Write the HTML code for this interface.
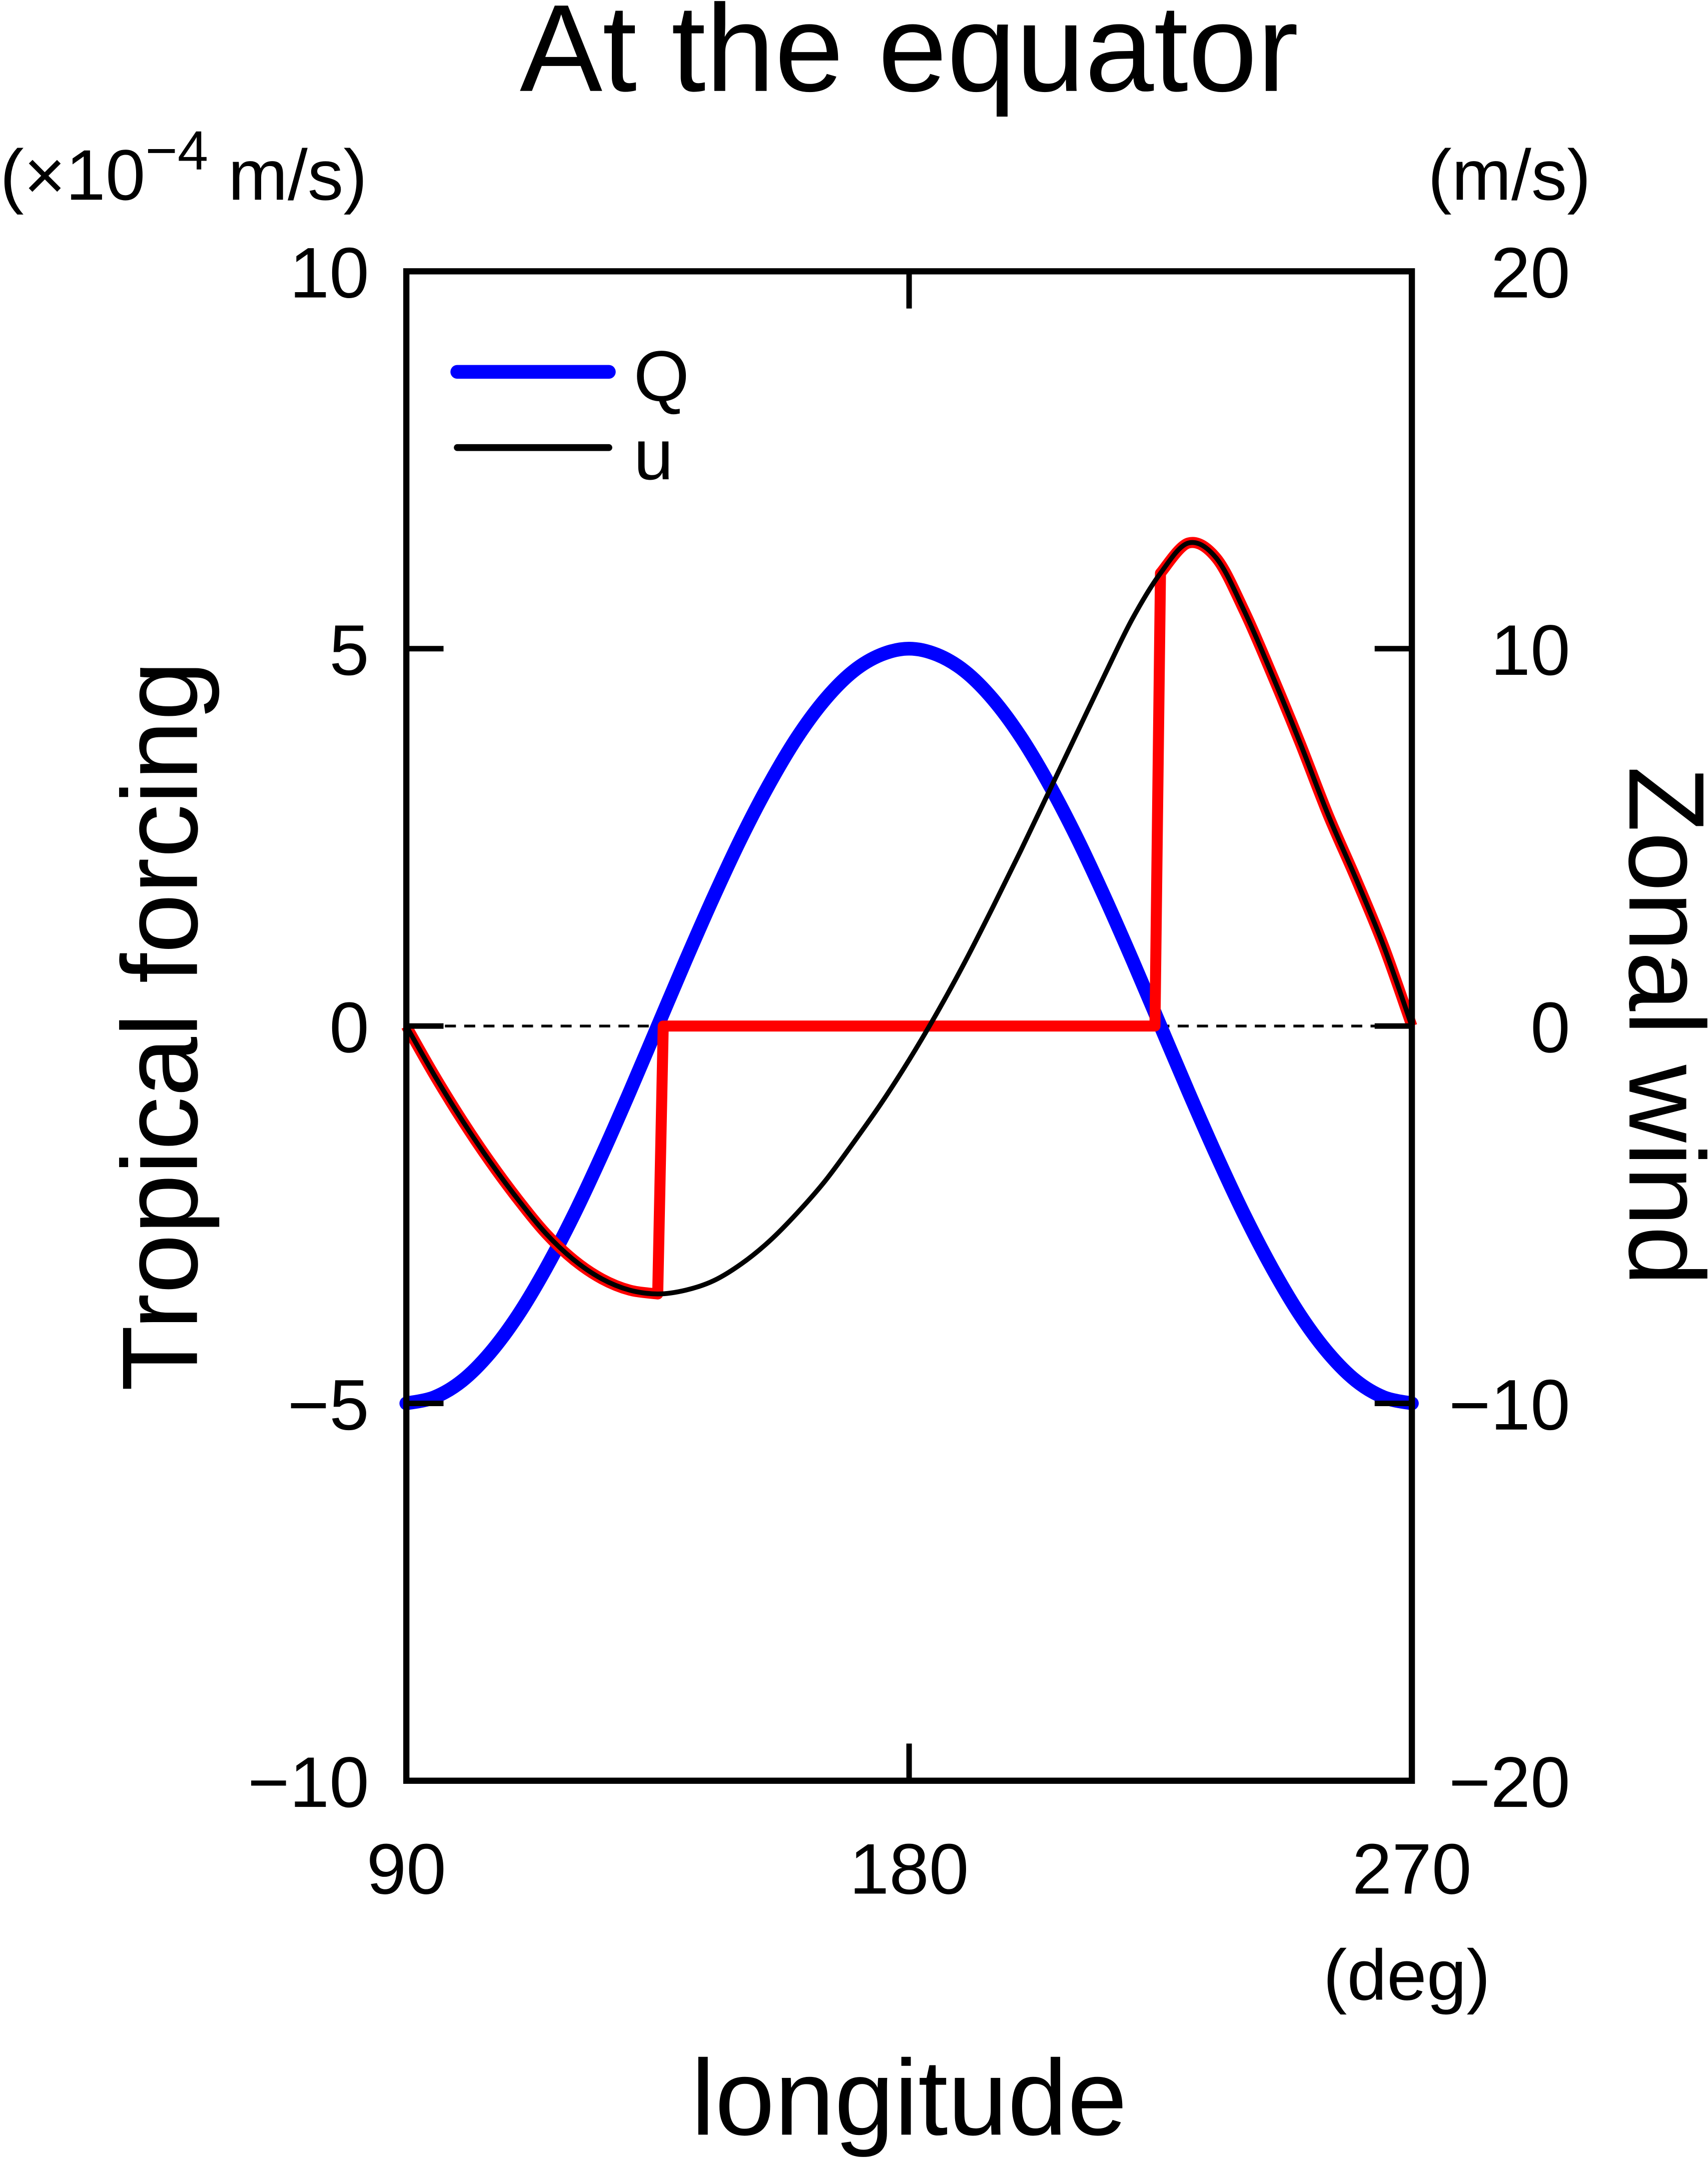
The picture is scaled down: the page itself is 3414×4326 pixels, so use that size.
<!DOCTYPE html>
<html><head><meta charset="utf-8"><style>
html,body{margin:0;padding:0;background:#fff}
svg{display:block}
text{font-family:"Liberation Sans",sans-serif;fill:#000}
</style></head><body>
<svg id="chart" width="3414" height="4326" viewBox="0 0 1240 1571.3" preserveAspectRatio="none" xmlns="http://www.w3.org/2000/svg">
<text x="660" y="66" font-size="90" text-anchor="middle">At the equator</text>
<text x="0" y="145" font-size="52">(×10<tspan font-size="40" dy="-22">−4</tspan><tspan dy="22"> m/s)</tspan></text>
<text x="1155" y="145" font-size="52" text-anchor="end">(m/s)</text>
<text x="1082" y="1452" font-size="52" text-anchor="end">(deg)</text>
<text x="660" y="1550" font-size="78" text-anchor="middle">longitude</text>
<text transform="translate(143,745) rotate(-90)" font-size="78" text-anchor="middle">Tropical forcing</text>
<text transform="translate(1183,745) rotate(90)" font-size="78" text-anchor="middle">Zonal wind</text>
<g id="plot"></g>
<g>
<line x1="332" y1="270" x2="442" y2="270" stroke="#0000ff" stroke-width="10" stroke-linecap="round"/>
<text x="460" y="291" font-size="52">Q</text>
<line x1="332" y1="325" x2="442" y2="325" stroke="#000" stroke-width="5" stroke-linecap="round"/>
<text x="460" y="348" font-size="52">u</text>
</g>
</svg>
<script>
const lons=[90,95,100,105,110,115,120,125,130,135,140,145,150,155,160,165,170,175,180,185,190,195,200,205,210,215,220,225,230,235,240,245,250,255,260,265,270];
const qVals=[-5,-4.92,-4.7,-4.33,-3.83,-3.21,-2.5,-1.71,-0.87,0,0.87,1.71,2.5,3.21,3.83,4.33,4.7,4.92,5,4.92,4.7,4.33,3.83,3.21,2.5,1.71,0.87,0,-0.87,-1.71,-2.5,-3.21,-3.83,-4.33,-4.7,-4.92,-5];
const uVals=[0,-1.3,-2.5,-3.6,-4.6,-5.5,-6.2,-6.7,-7.0,-7.1,-7.0,-6.75,-6.3,-5.7,-4.95,-4.1,-3.1,-2.05,-0.9,0.35,1.7,3.15,4.65,6.2,7.75,9.3,10.8,12.0,12.8,12.4,11.0,9.3,7.5,5.6,3.9,2.1,0];
const leftTicks=[10,5,0,-5,-10];
const rightTicks=[20,10,0,-10,-20];
const xTicks=[90,180,270];
const NS="http://www.w3.org/2000/svg";
const X0=295,X1=1025,Y0=197,Y1=1293;
const sx=v=>X0+(v-90)/180*(X1-X0);
const syL=v=>Y1-(v+10)/20*(Y1-Y0);
const syR=v=>Y1-(v+20)/40*(Y1-Y0);
const g=document.getElementById('plot');
function mk(tag,attrs){const e=document.createElementNS(NS,tag);for(const k in attrs)e.setAttribute(k,attrs[k]);g.appendChild(e);return e;}
function pathFrom(pts){let d='M'+pts[0][0]+','+pts[0][1];for(let i=0;i<pts.length-1;i++){const p0=pts[Math.max(0,i-1)],p1=pts[i],p2=pts[i+1],p3=pts[Math.min(pts.length-1,i+2)];d+=' C'+(p1[0]+(p2[0]-p0[0])/6)+','+(p1[1]+(p2[1]-p0[1])/6)+' '+(p2[0]-(p3[0]-p1[0])/6)+','+(p2[1]-(p3[1]-p1[1])/6)+' '+p2[0]+','+p2[1];}return d;}
let z=mk('line',{x1:X0,y1:syL(0),x2:X1,y2:syL(0),stroke:'#000','stroke-width':2,'stroke-dasharray':'8,6'});


let qp=mk('path',{d:pathFrom(lons.map((l,i)=>[sx(l),syL(qVals[i])])),fill:'none',stroke:'#0000ff','stroke-width':10,'stroke-linecap':'round'});


const segA=[],segB=[];
lons.forEach((l,i)=>{if(l<=135&&qVals[i]<=0)segA.push([sx(l),syR(uVals[i])]);if(l>=225&&qVals[i]<=0)segB.push([sx(l),syR(uVals[i])]);});
let lastA=segA[segA.length-1],firstB=segB[0];
let rd=pathFrom(segA)+' L'+(lastA[0]+4)+','+syL(0)+' L'+(firstB[0]-4)+','+syL(0)+' L'+firstB[0]+','+firstB[1]+' '+pathFrom(segB).replace('M','L');
let rp=mk('path',{d:rd,fill:'none',stroke:'#ff0000','stroke-width':8,'stroke-linejoin':'round'});


let up=mk('path',{d:pathFrom(lons.map((l,i)=>[sx(l),syR(uVals[i])])),fill:'none',stroke:'#000','stroke-width':3.5});


let fr=mk('rect',{x:X0,y:Y0,width:X1-X0,height:Y1-Y0,fill:'none',stroke:'#000','stroke-width':4.5});


leftTicks.forEach(v=>{const y=syL(v);
 let t=mk('line',{x1:X0,y1:y,x2:X0+27,y2:y,stroke:'#000','stroke-width':4});
 
 
 let tx=mk('text',{x:268,y:y+19,'font-size':52,'text-anchor':'end'});tx.textContent=String(v).replace('-','−');
 
 });
rightTicks.forEach(v=>{const y=syR(v);
 let t=mk('line',{x1:X1,y1:y,x2:X1-27,y2:y,stroke:'#000','stroke-width':4});
 
 
 let tx=mk('text',{x:1140,y:y+19,'font-size':52,'text-anchor':'end'});tx.textContent=String(v).replace('-','−');
 
 });
xTicks.forEach(v=>{const x=sx(v);
 let t=mk('line',{x1:x,y1:Y1,x2:x,y2:Y1-27,stroke:'#000','stroke-width':4});
 
 
 let t2=mk('line',{x1:x,y1:Y0,x2:x,y2:Y0+27,stroke:'#000','stroke-width':4});
 
 
 let tx=mk('text',{x:x,y:1375,'font-size':52,'text-anchor':'middle'});tx.textContent=v;
 
 });
</script>
</body></html>
